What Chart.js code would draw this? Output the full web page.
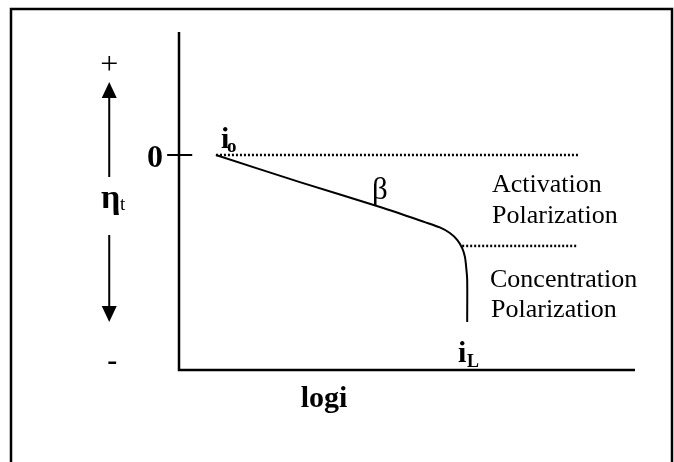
<!DOCTYPE html>
<html>
<head>
<meta charset="utf-8">
<script src="https://cdn.jsdelivr.net/npm/chart.js@4/dist/chart.umd.min.js"></script>
<style>
  body { margin: 0; background: #fff; }
  canvas { display: block; }
</style>
</head>
<body>
<canvas id="polChart" width="674" height="462"></canvas>
<script>
// axis ranges (arbitrary units: log i across, overpotential up)
const xRange = [0, 10];
const yRange = [-10, 5.72];

// polarization curve
const curveX = [0.81, 2.65, 4.41, 5.39, 5.72, 5.94, 6.10, 6.21, 6.27, 6.30, 6.32, 6.32];
const curveY = [0, -1.26, -2.42, -3.12, -3.37, -3.63, -3.95, -4.33, -4.74, -5.26, -5.81, -7.77];

// dotted limits
const activationLimitX = [0.81, 8.75];
const activationLimitY = [0, 0];
const concentrationLimitX = [6.21, 8.73];
const concentrationLimitY = [-4.23, -4.23];

// zero tick on the y axis
const zeroTickX = [-0.26, 0.29];
const zeroTickY = [0, 0];

const toPoints = (xs, ys) => xs.map((x, i) => ({ x, y: ys[i] }));

const serif = '"Liberation Serif", "Times New Roman", serif';

const sketchPlugin = {
  id: 'sketch',
  beforeDraw(chart) {
    const ctx = chart.ctx;
    ctx.save();
    ctx.strokeStyle = '#000';
    ctx.lineWidth = 2.5;
    ctx.strokeRect(11, 9, 661, 470);
    ctx.restore();
  },
  afterDatasetsDraw(chart) {
    const ctx = chart.ctx;
    const sx = chart.scales.x, sy = chart.scales.y;
    const px = v => sx.getPixelForValue(v);
    const py = v => sy.getPixelForValue(v);

    ctx.save();
    ctx.fillStyle = '#000';
    ctx.strokeStyle = '#000';

    // axes
    ctx.lineWidth = 2.5;
    ctx.beginPath();
    ctx.moveTo(px(0), py(yRange[1]));
    ctx.lineTo(px(0), py(yRange[0]));
    ctx.lineTo(px(xRange[1]), py(yRange[0]));
    ctx.stroke();

    // eta arrows
    const ax = px(-1.53);
    ctx.lineWidth = 2;
    ctx.beginPath();
    ctx.moveTo(ax, py(-1.02));
    ctx.lineTo(ax, py(3.4) + 12);
    ctx.moveTo(ax, py(-3.72));
    ctx.lineTo(ax, py(-7.77) - 12);
    ctx.stroke();
    ctx.beginPath();
    ctx.moveTo(ax, py(3.4));
    ctx.lineTo(ax - 7.5, py(3.4) + 16);
    ctx.lineTo(ax + 7.5, py(3.4) + 16);
    ctx.closePath();
    ctx.fill();
    ctx.beginPath();
    ctx.moveTo(ax, py(-7.77));
    ctx.lineTo(ax - 7.5, py(-7.77) - 16);
    ctx.lineTo(ax + 7.5, py(-7.77) - 16);
    ctx.closePath();
    ctx.fill();

    const text = (str, x, y, font, align) => {
      ctx.font = font;
      ctx.textAlign = align || 'left';
      ctx.textBaseline = 'alphabetic';
      ctx.fillText(str, x, y);
    };

    text('+', ax, 74, '32px ' + serif, 'center');
    text('-', ax + 3, 370, 'bold 30px ' + serif, 'center');
    text('0', px(-0.35), 167, 'bold 32px ' + serif, 'right');
    text('\u03b7', 101, 208, 'bold 34px ' + serif);
    text('t', 120, 210, '19px ' + serif);
    text('i', 221, 148, 'bold 30px ' + serif);
    text('o', 227, 152, 'bold 19px ' + serif);
    text('\u03b2', 372, 199, '31px ' + serif);
    text('i', 458, 362, 'bold 30px ' + serif);
    text('L', 467, 367, 'bold 18px ' + serif);
    text('Activation', 492, 192, '26px ' + serif);
    text('Polarization', 492, 223, '26px ' + serif);
    text('Concentration', 490, 287, '26px ' + serif);
    text('Polarization', 491, 317, '26px ' + serif);
    text('logi', 324, 407, 'bold 30px ' + serif, 'center');

    ctx.restore();
  }
};

new Chart(document.getElementById('polChart'), {
  type: 'scatter',
  data: {
    datasets: [
      {
        data: toPoints(curveX, curveY),
        showLine: true,
        borderColor: '#000',
        borderWidth: 2,
        pointRadius: 0,
        tension: 0.3,
        clip: false
      },
      {
        data: toPoints(activationLimitX, activationLimitY),
        showLine: true,
        borderColor: '#000',
        borderWidth: 2.5,
        borderDash: [2, 2],
        pointRadius: 0,
        clip: false
      },
      {
        data: toPoints(concentrationLimitX, concentrationLimitY),
        showLine: true,
        borderColor: '#000',
        borderWidth: 2.5,
        borderDash: [2, 2],
        pointRadius: 0,
        clip: false
      },
      {
        data: toPoints(zeroTickX, zeroTickY),
        showLine: true,
        borderColor: '#000',
        borderWidth: 2,
        pointRadius: 0,
        clip: false
      }
    ]
  },
  options: {
    responsive: false,
    animation: false,
    layout: { padding: { left: 179, right: 39, top: 32, bottom: 92 } },
    scales: {
      x: { type: 'linear', min: xRange[0], max: xRange[1], display: false },
      y: { type: 'linear', min: yRange[0], max: yRange[1], display: false }
    },
    plugins: {
      legend: { display: false },
      tooltip: { enabled: false }
    }
  },
  plugins: [sketchPlugin]
});
</script>
</body>
</html>
